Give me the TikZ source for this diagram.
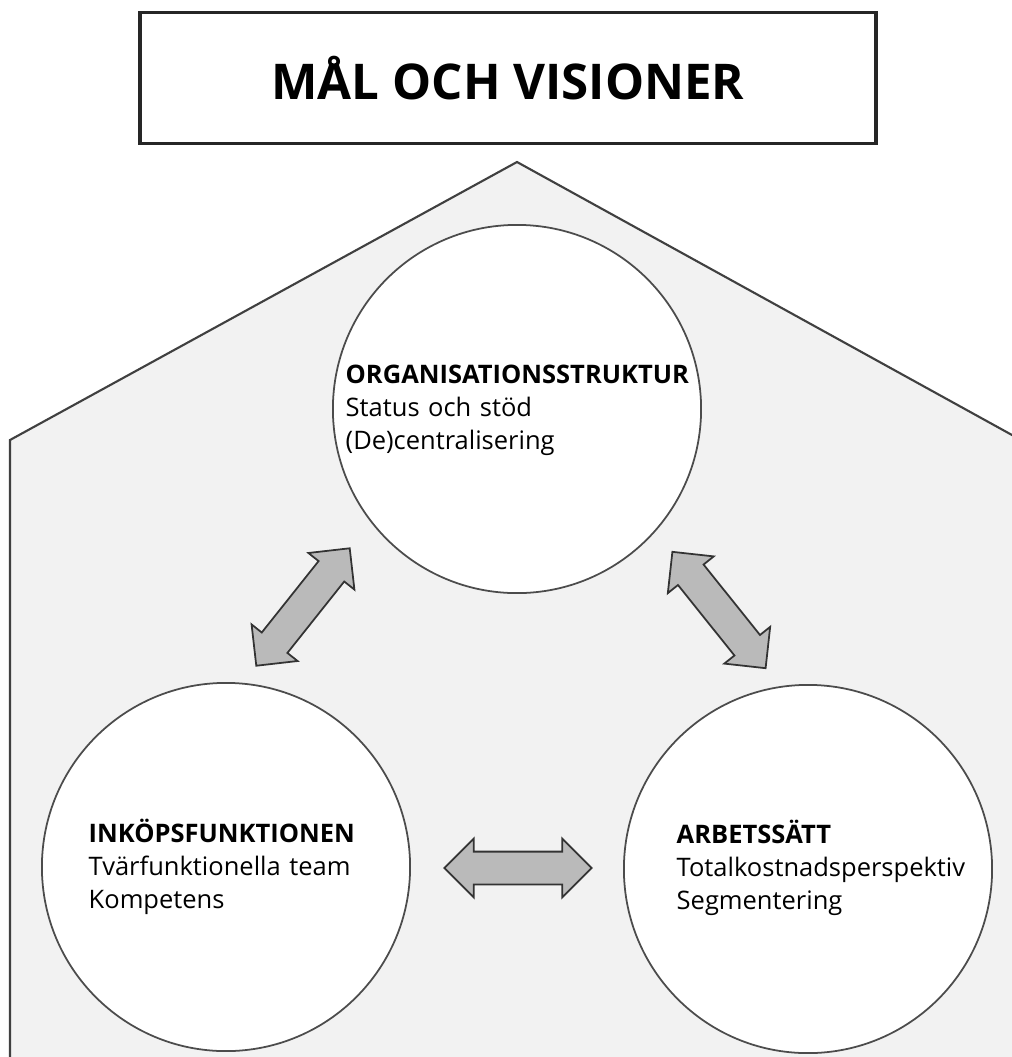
\documentclass[tikz,border=0pt]{standalone}
\usepackage{fontspec}
\setmainfont{Open Sans}
\usetikzlibrary{shapes.arrows}

\tikzset{
    house/.style={draw=black!75, fill=black!5, line width=0.6pt},
    titlebox/.style={draw=black!85, fill=white, line width=1pt, inner sep=0pt,
        minimum width=7.36cm, minimum height=1.31cm,
        font=\fontsize{14}{17}\selectfont\bfseries},
    area/.style={circle, draw=black!70, fill=white, line width=0.5pt,
        minimum size=3.68cm, inner sep=0pt},
    areatext/.style={anchor=base west, inner sep=0pt, text width=3.4cm, align=left,
        font=\fontsize{7.25}{9.4}\selectfont},
    fatarrow/.style={double arrow, draw=black!80, fill=black!27, line width=0.5pt,
        inner xsep=0pt, inner ysep=0.155cm, double arrow head extend=0.13cm,
        double arrow tip angle=90, minimum height=#1}
}

\begin{document}
\begin{tikzpicture}[x=0.01cm, y=-0.01cm]
    \useasboundingbox (0,0) rectangle (1012,1057);

    % house outline
    \path[house] (10,1070) -- (10,440) -- (517,162) -- (1012,435) -- (1030,445) -- (1030,1070) -- cycle;

    \node[titlebox] (goal) at (508,78) {MÅL OCH VISIONER};

    \node[area] (org) at (517,409) {};
    \node[area] (buy) at (226,867) {};
    \node[area] (work) at (808,869) {};

    \node[areatext] (orgtext) at (345,383)
        {\textbf{ORGANISATIONSSTRUKTUR}\\Status och stöd\\(De)centralisering};
    \node[areatext] (buytext) at (88,842)
        {\textbf{INKÖPSFUNKTIONEN}\\Tvärfunktionella team\\Kompetens};
    \node[areatext] (worktext) at (676,843)
        {\textbf{ARBETSSÄTT}\\Totalkostnadsperspektiv\\Segmentering};

    \node[fatarrow=1.5cm, rotate=51.5] (buyorg) at (303,607) {};
    \node[fatarrow=1.49cm, rotate=-51.3] (orgwork) at (719,610) {};
    \node[fatarrow=1.47cm] (buywork) at (518,868) {};
\end{tikzpicture}
\end{document}
